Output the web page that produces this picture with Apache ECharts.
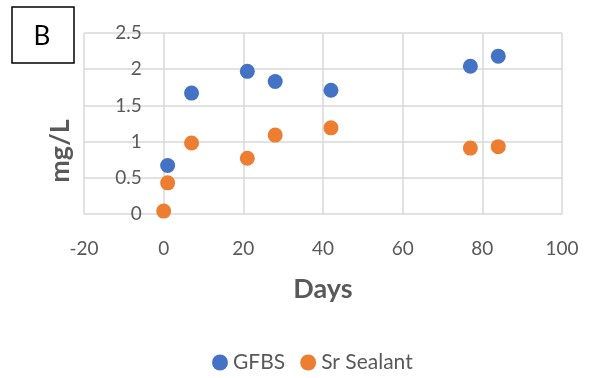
<!DOCTYPE html>
<html>
<head>
<meta charset="utf-8">
<script src="https://cdn.jsdelivr.net/npm/echarts@6/dist/echarts.min.js"></script>
<style>
  html, body { margin: 0; padding: 0; background: #fff; }
  #chart { width: 590px; height: 378px; }
</style>
</head>
<body>
<div id="chart"></div>
<script>
// Sampling days
const days = [0, 1, 7, 21, 28, 42, 77, 84];

// Concentrations (mg/L)
const gfbs = [null, 0.67, 1.67, 1.97, 1.83, 1.71, 2.04, 2.18];
const srSealant = [0.04, 0.43, 0.98, 0.77, 1.09, 1.19, 0.91, 0.93];

// Axis tick values
const xTicks = [-20, 0, 20, 40, 60, 80, 100];
const yTicks = [0, 0.5, 1, 1.5, 2, 2.5];

const seriesNames = ['GFBS', 'Sr Sealant'];
const panelLabel = 'B';

function pairs(xs, ys) {
  const out = [];
  xs.forEach((x, i) => { if (ys[i] !== null) out.push([x, ys[i]]); });
  return out;
}

const FONT = 'Lato';
const GREY = '#595959';
const GRID = '#d9d9d9';

const GRID_LEFT = 84, GRID_RIGHT = 28;
const CHART_W = 590;
// The value axis crosses the horizontal axis at x = 0
const xMin = xTicks[0], xMax = xTicks[xTicks.length - 1];
const plotW = CHART_W - GRID_LEFT - GRID_RIGHT;
const yAxisShift = (0 - xMin) / (xMax - xMin) * plotW;

const chart = echarts.init(document.getElementById('chart'), null, { renderer: 'canvas' });

chart.setOption({
  animation: false,
  backgroundColor: '#fff',
  color: ['#4472C4', '#ED7D31'],
  grid: { left: GRID_LEFT, right: GRID_RIGHT, top: 33, bottom: 164, containLabel: false, outerBoundsMode: 'none' },
  xAxis: {
    type: 'value',
    min: xMin,
    max: xMax,
    interval: xTicks[1] - xTicks[0],
    name: 'Days',
    nameLocation: 'middle',
    nameGap: 62,
    nameTextStyle: { fontFamily: FONT, fontSize: 27, fontWeight: 'bold', color: GREY },
    axisLine: { show: false },
    axisTick: { show: false },
    axisLabel: { fontFamily: FONT, fontSize: 19, color: GREY, margin: 25 },
    splitLine: { show: true, lineStyle: { color: GRID, width: 1.5 } }
  },
  yAxis: {
    type: 'value',
    position: 'left',
    offset: -yAxisShift,
    min: yTicks[0],
    max: yTicks[yTicks.length - 1],
    interval: yTicks[1] - yTicks[0],
    name: 'mg/L',
    nameLocation: 'middle',
    nameGap: 90,
    nameTextStyle: { fontFamily: FONT, fontSize: 27, fontWeight: 'bold', color: GREY, padding: [0, 55, 0, 0] },
    axisLine: { show: false, onZero: false },
    axisTick: { show: false },
    axisLabel: { fontFamily: FONT, fontSize: 19, color: GREY, margin: 22 },
    splitLine: { show: true, lineStyle: { color: GRID, width: 1.5 } }
  },
  legend: {
    data: seriesNames,
    left: 207,
    top: 347,
    icon: 'circle',
    itemWidth: 16,
    itemHeight: 16,
    itemGap: 15,
    textStyle: { fontFamily: FONT, fontSize: 21, color: GREY }
  },
  graphic: [
    {
      type: 'rect',
      shape: { x: 12, y: 7, width: 62, height: 56 },
      style: { fill: '#fff', stroke: '#000', lineWidth: 1.5 }
    },
    {
      type: 'text',
      x: 42,
      y: 37,
      style: {
        text: panelLabel,
        font: '26px Lato',
        fill: '#000',
        align: 'center',
        verticalAlign: 'middle'
      }
    }
  ],
  series: [
    {
      name: seriesNames[0],
      type: 'scatter',
      symbol: 'circle',
      symbolSize: 15,
      itemStyle: { opacity: 1 },
      data: pairs(days, gfbs)
    },
    {
      name: seriesNames[1],
      type: 'scatter',
      symbol: 'circle',
      symbolSize: 15,
      itemStyle: { opacity: 1 },
      data: pairs(days, srSealant)
    }
  ]
});
</script>
</body>
</html>
